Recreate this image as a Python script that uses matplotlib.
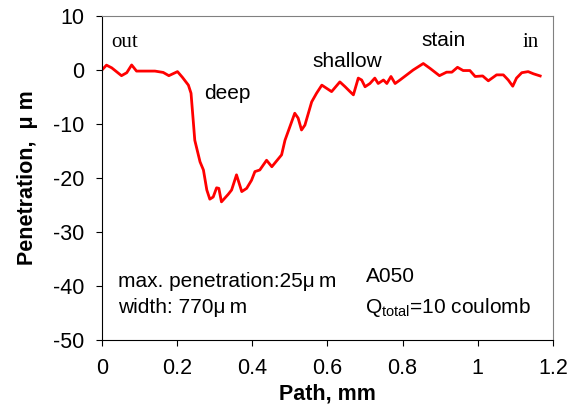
import matplotlib
matplotlib.use("Agg")
import matplotlib.pyplot as plt

plt.rcParams["font.family"] = ["Liberation Sans", "DejaVu Sans"]
plt.rcParams["mathtext.fontset"] = "custom"
plt.rcParams["mathtext.rm"] = "Liberation Sans"
plt.rcParams["axes.unicode_minus"] = False

# path (mm) and penetration (um)
path = [0, 0.012, 0.026, 0.052, 0.066, 0.079, 0.092, 0.141, 0.163, 0.178,
        0.201, 0.214, 0.230, 0.237, 0.243, 0.247, 0.261, 0.270, 0.279, 0.287,
        0.296, 0.305, 0.311, 0.318, 0.336, 0.345, 0.358, 0.372, 0.385, 0.398,
        0.407, 0.420, 0.438, 0.452, 0.478, 0.487, 0.500, 0.513, 0.522, 0.531,
        0.540, 0.558, 0.571, 0.585, 0.598, 0.611, 0.633, 0.647, 0.660, 0.669,
        0.682, 0.691, 0.700, 0.713, 0.726, 0.735, 0.749, 0.758, 0.769, 0.780,
        0.793, 0.811, 0.828, 0.855, 0.873, 0.898, 0.917, 0.931, 0.946, 0.961,
        0.979, 0.993, 1.013, 1.028, 1.050, 1.068, 1.081, 1.093, 1.103, 1.117,
        1.134, 1.148, 1.166]
penetration = [0, 0.9, 0.4, -1.05, -0.5, 0.93, -0.2, -0.2, -0.45, -1.05,
               -0.3, -1.35, -2.8, -4.3, -9.5, -13, -17, -18.5, -22.2, -23.9,
               -23.5, -21.8, -21.9, -24.4, -23, -22.2, -19.4, -22.5, -21.9, -20.4,
               -18.8, -18.5, -16.7, -17.9, -15.7, -13, -10.5, -8, -8.9, -11.1,
               -10.2, -5.9, -4.3, -2.8, -3.4, -4.0, -2.2, -3.1, -4.0, -4.6,
               -1.5, -1.85, -3.1, -2.5, -1.5, -2.5, -1.85, -2.5, -1.2, -2.5,
               -1.85, -0.9, 0, 1.2, 0.3, -1.05, -0.4, -0.4, 0.5, -0.1,
               -0.1, -1.2, -1.1, -2.0, -0.9, -0.9, -1.85, -3.0, -1.5, -0.5,
               -0.3, -0.7, -1.1]

fig = plt.figure(figsize=(5.76, 4.2), dpi=100)
ax = fig.add_axes([0.177, 0.19, 0.783, 0.772])

ax.plot(path, penetration, color="#ff0000", linewidth=2.0,
        solid_joinstyle="round")

ax.set_xlim(0, 1.2)
ax.set_ylim(-50, 10)
ax.set_xticks([0, 0.2, 0.4, 0.6, 0.8, 1.0, 1.2])
ax.set_xticklabels(["0", "0.2", "0.4", "0.6", "0.8", "1", "1.2"])
ax.set_yticks(range(-50, 11, 10))
ax.tick_params(direction="out", length=4, width=0.8, labelsize=15.5, pad=9)

for side in ["top", "right"]:
    ax.spines[side].set_color("#808080")
for side in ["left", "bottom"]:
    ax.spines[side].set_color("black")

ax.set_xlabel("Path, mm", fontsize=15.5, fontweight="bold", labelpad=3)
ax.set_ylabel("Penetration,  μ m", fontsize=15.5, fontweight="bold")
ax.yaxis.set_label_coords(-0.142, 0.5)

# region labels
ax.text(0.024, 4.3, "out", family="Liberation Serif", fontsize=15, va="baseline")
ax.text(1.12, 4.3, "in", family="Liberation Serif", fontsize=15, va="baseline")
ax.text(0.849, 4.4, "stain", fontsize=15, va="baseline")
ax.text(0.561, 0.6, "shallow", fontsize=15, va="baseline")
ax.text(0.272, -5.4, "deep", fontsize=15, va="baseline")

ax.text(0.042, -40.2, "max. penetration:25μ\u2009m".replace("μ ", "μ"), fontsize=15, va="baseline")
ax.text(0.042, -45, "width: 770μ\u2009m".replace("μ ", "μ"), fontsize=15, va="baseline")
ax.text(0.703, -39.3, "A050", fontsize=15, va="baseline")
ax.text(0.700, -45, r"Q$_\mathrm{total}$=10 coulomb", fontsize=15, va="baseline")

fig.savefig("out.png", dpi=100)
plt.close(fig)
